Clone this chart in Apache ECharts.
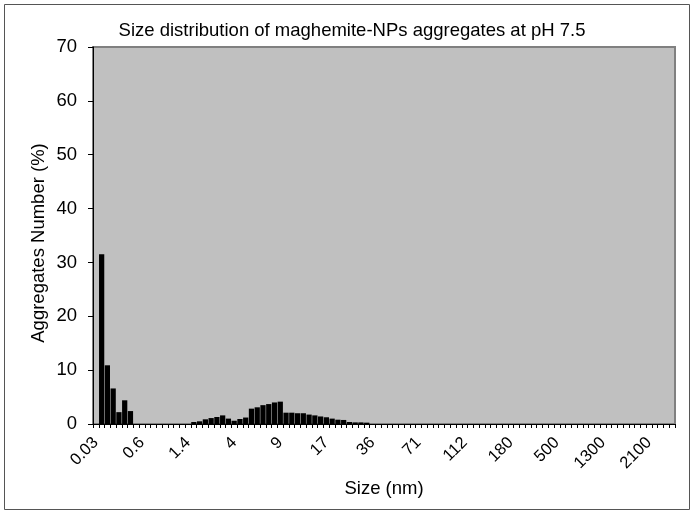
<!DOCTYPE html>
<html>
<head>
<meta charset="utf-8">
<script src="https://cdn.jsdelivr.net/npm/echarts@6/dist/echarts.min.js"></script>
<style>
html,body{margin:0;padding:0;background:#fff;}
#chart{width:694px;height:514px;}
</style>
</head>
<body>
<div id="chart"></div>
<script>
// Tick labels shown every 8th category
const tickLabels = ['0.03','0.6','1.4','4','9','17','36','71','112','180','500','1300','2100'];
const labelStep = 8;
const categoryCount = 101;

// Aggregates number (%) per size class (in category order)
const peakSmall = [0, 31.5, 10.9, 6.6, 2.2, 4.4, 2.4];            // classes 0-6
const zerosA = [0,0,0,0,0,0,0,0,0,0];                              // classes 7-16
const peakLarge = [0.37, 0.5, 0.87, 1.1, 1.3, 1.6, 1.0, 0.6, 0.93, 1.2,
                   2.85, 3.1, 3.5, 3.7, 4.0, 4.15, 2.1, 2.1, 2.0, 2.0,
                   1.75, 1.6, 1.4, 1.25, 1.0, 0.8, 0.75, 0.37, 0.3, 0.3, 0.25]; // classes 17-47

const values = peakSmall.concat(zerosA, peakLarge);
while (values.length < categoryCount) values.push(0);

const categories = [];
for (let i = 0; i < categoryCount; i++) {
  categories.push(i % labelStep === 0 && tickLabels[i / labelStep] !== undefined ? tickLabels[i / labelStep] : '');
}

const font = 'Liberation Sans, Arial, sans-serif';
const chart = echarts.init(document.getElementById('chart'), null, {renderer: 'canvas'});
chart.setOption({
  animation: false,
  backgroundColor: '#ffffff',
  graphic: [
    {type: 'rect', shape: {x: 4.5, y: 4.5, width: 685, height: 505}, style: {fill: 'none', stroke: '#555', lineWidth: 1}, z: -10},
    {type: 'text', x: 352, y: 31, style: {text: 'Size distribution of maghemite-NPs aggregates at pH 7.5', font: '18.5px ' + font, fill: '#000', textAlign: 'center', textVerticalAlign: 'middle'}},
    {type: 'text', x: 39, y: 243, rotation: Math.PI / 2, style: {text: 'Aggregates Number (%)', font: '18.5px ' + font, fill: '#000', textAlign: 'center', textVerticalAlign: 'middle'}}
  ],
  grid: {
    show: true, left: 93, right: 19, top: 47, bottom: 90,
    backgroundColor: '#c0c0c0', borderColor: '#808080', borderWidth: 2,
    containLabel: false
  },
  xAxis: {
    type: 'category',
    data: categories,
    boundaryGap: true,
    name: 'Size (nm)',
    nameLocation: 'middle',
    nameGap: 55,
    nameTextStyle: {fontFamily: font, fontSize: 18.5, color: '#000'},
    axisLine: {lineStyle: {color: '#000', width: 1}},
    axisTick: {show: true, interval: 0, length: 4, lineStyle: {color: '#000'}},
    axisLabel: {interval: labelStep - 1, rotate: 45, fontFamily: font, fontSize: 16.5, color: '#000', margin: 16},
    splitLine: {show: false}
  },
  yAxis: {
    type: 'value',
    min: 0, max: 70, interval: 10,
    axisLine: {show: true, lineStyle: {color: '#000', width: 1}},
    axisTick: {show: true, length: 5, lineStyle: {color: '#000'}},
    axisLabel: {fontFamily: font, fontSize: 18.5, color: '#000', margin: 16},
    splitLine: {show: false}
  },
  series: [{
    type: 'bar',
    data: values,
    barCategoryGap: '9%',
    itemStyle: {color: '#000'}
  }]
});
</script>
</body>
</html>
